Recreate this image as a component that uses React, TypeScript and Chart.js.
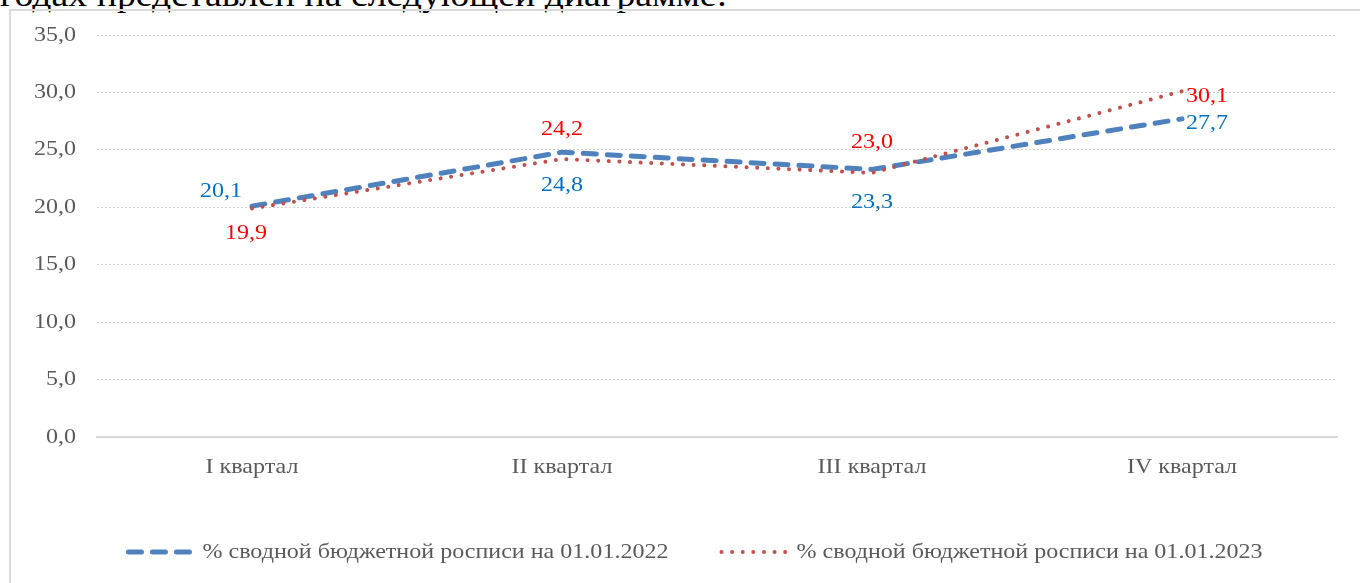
import React, { useEffect, useRef } from "react";
import { Chart, registerables } from "chart.js";

Chart.register(...registerables);

const categories = ["I квартал", "II квартал", "III квартал", "IV квартал"];
const series2022 = [20.1, 24.8, 23.3, 27.7];
const series2023 = [19.9, 24.2, 23.0, 30.1];
const seriesNames = [
  "% сводной бюджетной росписи на 01.01.2022",
  "% сводной бюджетной росписи на 01.01.2023",
];
const yMin = 0;
const yMax = 35;
const yStep = 5;

const FONT = '"Liberation Serif", "Times New Roman", serif';
const SX = 1.145;
const fmt = (v: number) => v.toFixed(1).replace(".", ",");

const labelPlacement = [
  ["left", "below", "below", "right"],
  ["below", "above", "above", "right"],
];
const labelColors = ["#0070c0", "#ff0000"];
const belowOffset = [33, 25];

const lineStyles = [
  { color: "#4f81bd", width: 5, dash: [13, 11] },
  { color: "#c0504d", width: 4, dash: [0.01, 10.6] },
];

function drawText(ctx: any, t: string, x: number, y: number, align: string) {
  ctx.save();
  ctx.translate(x, y);
  ctx.scale(SX, 1);
  ctx.textAlign = align;
  ctx.fillText(t, 0, 0);
  ctx.restore();
}

const axisTextPlugin = {
  id: "axisText",
  afterDraw(chart: any) {
    const ctx = chart.ctx;
    ctx.save();
    ctx.font = `21px ${FONT}`;
    ctx.textBaseline = "middle";
    ctx.fillStyle = "#595959";
    const ys = chart.scales.y;
    ys.ticks.forEach((tk: any) => {
      drawText(ctx, fmt(tk.value), ys.right - 21, ys.getPixelForValue(tk.value), "right");
    });
    const xs = chart.scales.x;
    categories.forEach((c, i) => {
      drawText(ctx, c, xs.getPixelForValue(i), xs.top + 30, "center");
    });
    ctx.restore();
  },
};

const labelsPlugin = {
  id: "valueLabels",
  afterDatasetsDraw(chart: any) {
    const ctx = chart.ctx;
    ctx.save();
    ctx.font = `21px ${FONT}`;
    ctx.textBaseline = "middle";
    chart.data.datasets.forEach((ds: any, i: number) => {
      const meta = chart.getDatasetMeta(i);
      meta.data.forEach((el: any, j: number) => {
        const p = labelPlacement[i][j];
        const t = fmt(ds.data[j]);
        let x = el.x;
        let y = el.y;
        let align = "center";
        if (p === "left") {
          align = "right";
          x -= 10;
          y -= 15;
        } else if (p === "right") {
          align = "left";
          x += 4;
          y += 5;
        } else if (p === "above") {
          y -= 30;
        } else {
          y += belowOffset[i];
          if (i === 1) x -= 6;
        }
        ctx.fillStyle = labelColors[i];
        drawText(ctx, t, x, y, align);
      });
    });
    ctx.restore();
  },
};

const legendPlugin = {
  id: "customLegend",
  afterDraw(chart: any) {
    const ctx = chart.ctx;
    ctx.save();
    ctx.font = `21px ${FONT}`;
    ctx.textBaseline = "middle";
    const samples = [66, 72];
    const gapText = [11, 6];
    const gapItem = 50;
    const widths = seriesNames.map((n) => ctx.measureText(n).width * SX);
    const total =
      widths.reduce((a, b) => a + b, 0) +
      samples[0] + samples[1] + gapText[0] + gapText[1] + gapItem;
    let x = 694 - total / 2;
    const y = 552;
    seriesNames.forEach((n, i) => {
      const st = lineStyles[i];
      ctx.beginPath();
      ctx.strokeStyle = st.color;
      ctx.lineWidth = st.width;
      ctx.lineCap = "round";
      ctx.setLineDash(st.dash);
      ctx.moveTo(x + 3, y);
      ctx.lineTo(x + samples[i] - 2, y);
      ctx.stroke();
      ctx.setLineDash([]);
      x += samples[i] + gapText[i];
      ctx.fillStyle = "#595959";
      drawText(ctx, n, x, y, "left");
      x += widths[i] + gapItem;
    });
    ctx.restore();
  },
};

export default function App() {
  const ref = useRef<HTMLCanvasElement | null>(null);
  useEffect(() => {
    if (!ref.current) return;
    const chart = new Chart(ref.current, {
      type: "line",
      data: {
        labels: categories,
        datasets: [
          {
            label: seriesNames[0],
            data: series2022,
            borderColor: lineStyles[0].color,
            borderWidth: lineStyles[0].width,
            borderDash: lineStyles[0].dash,
            borderCapStyle: "round",
            pointRadius: 0,
            pointHoverRadius: 0,
            fill: false,
            tension: 0,
            order: 1,
          },
          {
            label: seriesNames[1],
            data: series2023,
            borderColor: lineStyles[1].color,
            borderWidth: lineStyles[1].width,
            borderDash: lineStyles[1].dash,
            borderCapStyle: "round",
            pointRadius: 0,
            pointHoverRadius: 0,
            fill: false,
            tension: 0,
            order: 0,
          },
        ],
      },
      options: {
        animation: false,
        responsive: false,
        devicePixelRatio: 1,
        layout: { padding: { left: 0, right: 23, top: 35, bottom: 0 } },
        plugins: {
          legend: { display: false },
          tooltip: { enabled: false },
        },
        scales: {
          x: {
            offset: true,
            grid: { display: false, drawTicks: false },
            border: { display: true, color: "#d9d9d9", width: 2 },
            ticks: { display: false },
            afterFit: (s: any) => {
              s.height = 146;
            },
          },
          y: {
            min: yMin,
            max: yMax,
            grid: {
              drawTicks: false,
              color: (c: any) =>
                c.tick && c.tick.value === 0 ? "rgba(0,0,0,0)" : "#d0d0d0",
              lineWidth: 1,
            },
            border: { display: false, dash: [2, 2] },
            ticks: { display: false, stepSize: yStep },
            afterFit: (s: any) => {
              s.width = 97;
            },
          },
        },
      },
      plugins: [labelsPlugin, legendPlugin, axisTextPlugin],
    });
    return () => chart.destroy();
  }, []);

  return (
    <div
      style={{
        position: "absolute",
        left: 0,
        top: 0,
        width: 1360,
        height: 583,
        overflow: "hidden",
        background: "#fff",
      }}
    >
      <div
        style={{
          position: "absolute",
          left: 0,
          top: -25.5,
          fontFamily: FONT,
          fontSize: 33,
          color: "#000",
          whiteSpace: "nowrap",
          lineHeight: "40px",
          transform: `scaleX(${SX})`,
          transformOrigin: "left top",
        }}
      >
        годах представлен на следующей диаграмме:
      </div>
      <div
        style={{
          position: "absolute",
          left: 9,
          top: 9,
          width: 1400,
          height: 600,
          border: "2px solid #d9d9d9",
          boxSizing: "border-box",
        }}
      />
      <canvas
        ref={ref}
        width={1360}
        height={583}
        style={{ position: "absolute", left: 0, top: 0, width: 1360, height: 583 }}
      />
    </div>
  );
}
